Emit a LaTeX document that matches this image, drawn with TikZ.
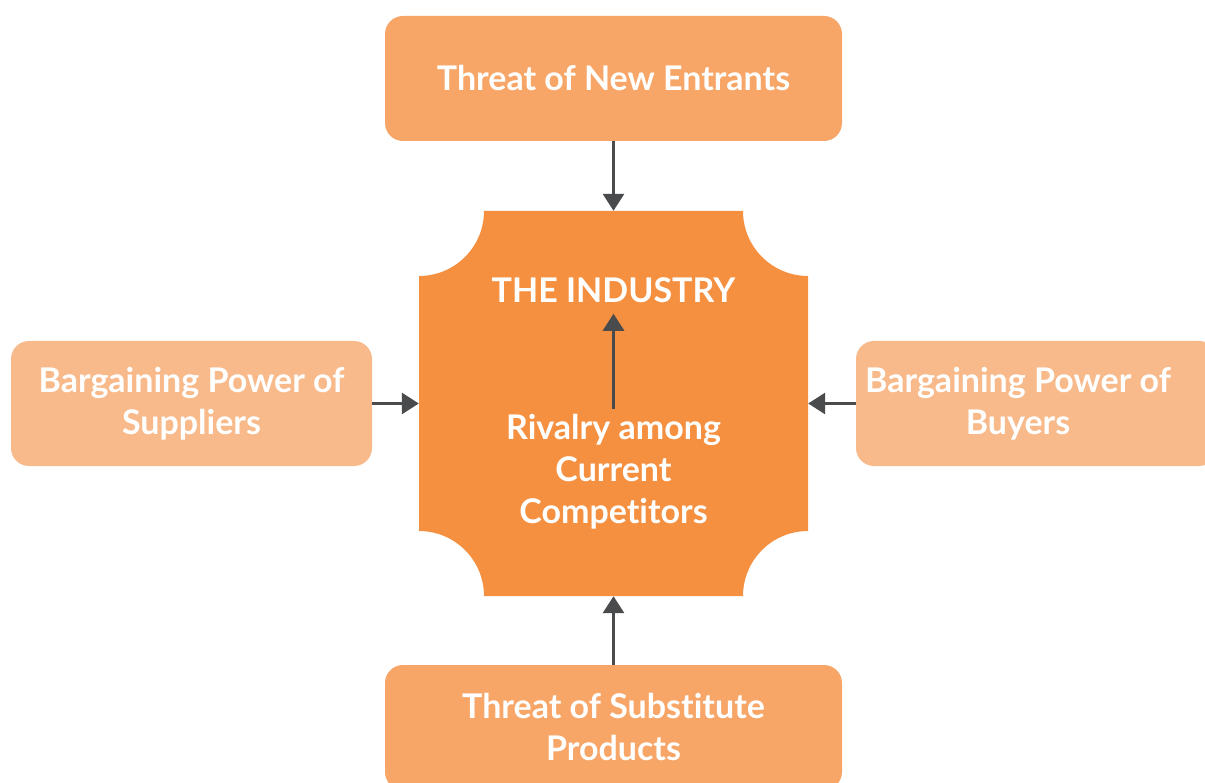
\documentclass[tikz,border=0pt]{standalone}
\usepackage{fontspec}
\setmainfont{Lato}[Ligatures=NoCommon]
\usetikzlibrary{arrows.meta}
\definecolor{forceOrange}{HTML}{F7A668}
\definecolor{forceLight}{HTML}{F8BA8B}
\definecolor{coreOrange}{HTML}{F69041}
\definecolor{arrowGray}{HTML}{4A4B4D}
\newcommand{\industryShape}{%%
  \fill[coreOrange] (\xlow+\notch,\ytop) -- (\xhigh-\notch,\ytop)
  arc[start angle=180,end angle=270,radius=\notch]
  -- (\xhigh,\ylow+\notch)
  arc[start angle=90,end angle=180,radius=\notch]
  -- (\xlow+\notch,\ylow)
  arc[start angle=0,end angle=90,radius=\notch]
  -- (\xlow,\ytop-\notch)
  arc[start angle=270,end angle=360,radius=\notch] -- cycle;
}
\begin{document}
\begin{tikzpicture}[%%
  x=1pt,y=1pt,
  forceBox/.style={rounded corners=18pt,fill=forceOrange,text=white,
    font=\bfseries\fontsize{34}{42}\selectfont,align=center,
    inner sep=0pt},
  sideBox/.style={forceBox,fill=forceLight},
  label/.style={text=white,font=\bfseries\fontsize{34}{42}\selectfont,
    align=center,inner sep=0pt},
  arrowStyle/.style={draw=arrowGray,line width=3pt,
    -{Triangle[length=17pt,width=21pt]}}%%
]
%%
%%
\pgfmathsetmacro{\notch}{65}   %% Radius of each cut corner.
\pgfmathsetmacro{\xlow}{419}
\pgfmathsetmacro{\xhigh}{808}
\pgfmathsetmacro{\ytop}{-211}
\pgfmathsetmacro{\ylow}{-596}
\useasboundingbox (0,0) rectangle (1205,-783);
%%
%%
%% The industry in the middle.
\industryShape
\node[minimum width=389pt,minimum height=385pt,inner sep=0pt]
  (industry) at (613.5,-403.5) {};
\node[label] (title) at (613.5,-290) {THE INDUSTRY};
\node[label] (rivalry) at (613.5,-472)
  {Rivalry among\\Current\\Competitors};
%%
%% The four forces.
\node[forceBox,minimum width=457pt,minimum height=125pt]
  (entrants) at (613.5,-78.5) {Threat of New Entrants};
\node[forceBox,minimum width=457pt,minimum height=125pt]
  (substitutes) at (613.5,-727.5) {Threat of Substitute\\Products};
\node[sideBox,minimum width=361pt,minimum height=125pt]
  (suppliers) at (191.5,-403.5) {Bargaining Power of\\Suppliers};
\node[sideBox,minimum width=361pt,minimum height=125pt]
  (buyers) at (1036.5,-403.5) {};
\node[label] (buyersText) at (1018,-403.5) {Bargaining Power of\\Buyers};
%%
%% Arrows.
\draw[arrowStyle] (entrants.south) -- (industry.north);
\draw[arrowStyle] (substitutes.north) -- (industry.south);
\draw[arrowStyle] (suppliers.east) -- (industry.west);
\draw[arrowStyle] (buyers.west) -- (industry.east);
\draw[arrowStyle] ([yshift=5pt]rivalry.north) -- ([yshift=-11pt]title.south);
\end{tikzpicture}
\end{document}
